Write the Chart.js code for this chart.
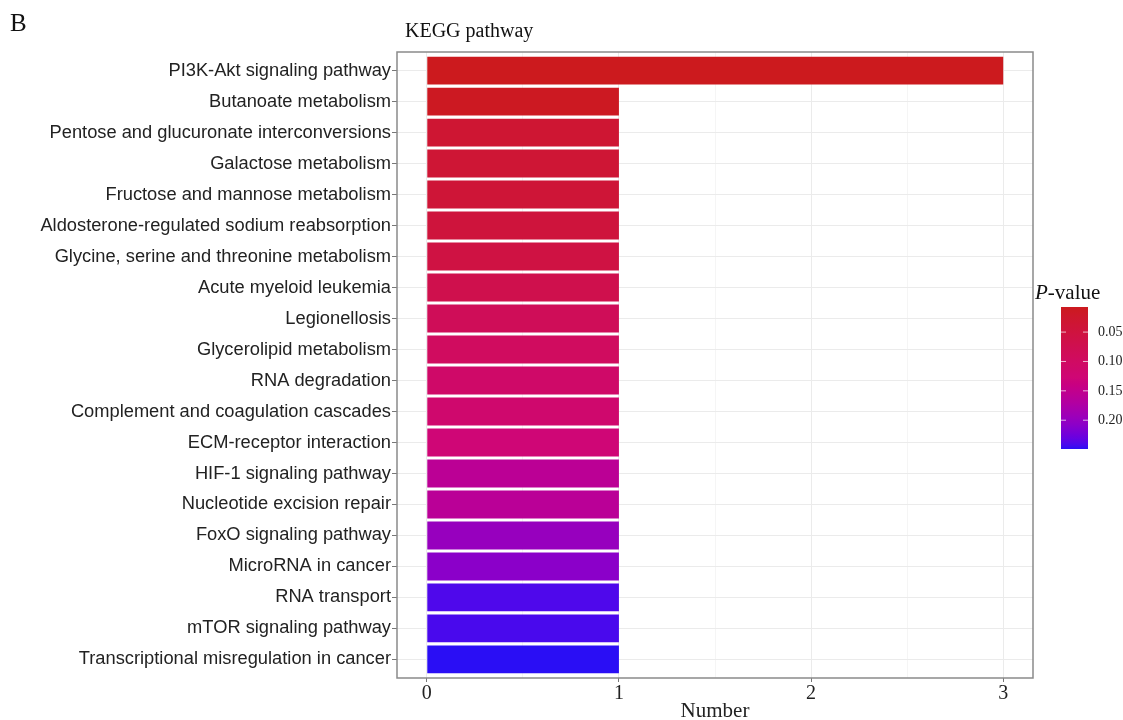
<!DOCTYPE html>
<html>
<head>
<meta charset="utf-8">
<script src="https://cdn.jsdelivr.net/npm/chart.js@4.4.0/dist/chart.umd.min.js"></script>
<style>
  html, body { margin: 0; padding: 0; background: #ffffff; }
  #wrap { width: 1123px; height: 720px; position: relative; }
</style>
</head>
<body>
<div id="wrap"><canvas id="c" width="1123" height="720"></canvas></div>
<script>
// KEGG pathway enrichment: gene counts and P-values per pathway (top to bottom)
const pathways = [
  'PI3K-Akt signaling pathway',
  'Butanoate metabolism',
  'Pentose and glucuronate interconversions',
  'Galactose metabolism',
  'Fructose and mannose metabolism',
  'Aldosterone-regulated sodium reabsorption',
  'Glycine, serine and threonine metabolism',
  'Acute myeloid leukemia',
  'Legionellosis',
  'Glycerolipid metabolism',
  'RNA degradation',
  'Complement and coagulation cascades',
  'ECM-receptor interaction',
  'HIF-1 signaling pathway',
  'Nucleotide excision repair',
  'FoxO signaling pathway',
  'MicroRNA in cancer',
  'RNA transport',
  'mTOR signaling pathway',
  'Transcriptional misregulation in cancer'
];
const geneCounts = [3, 1, 1, 1, 1, 1, 1, 1, 1, 1, 1, 1, 1, 1, 1, 1, 1, 1, 1, 1];
const pValues = [0.0073, 0.012, 0.034, 0.036, 0.039, 0.046, 0.056, 0.070, 0.085, 0.095,
                 0.109, 0.116, 0.128, 0.158, 0.160, 0.198, 0.208, 0.240, 0.242, 0.249];
const countTicks = [0, 1, 2, 3];
const pValueTicks = [0.05, 0.10, 0.15, 0.20];

// Fill scale: low P -> red, high P -> blue, interpolated in CIE Lab through magenta
const colourStops = [
  [0.0, [204, 26, 30]],
  [0.5, [207, 6, 118]],
  [1.0, [42, 14, 245]]
];

function toLin(c) { c /= 255; return c <= 0.04045 ? c / 12.92 : Math.pow((c + 0.055) / 1.055, 2.4); }
function toSrgb(c) {
  c = c <= 0.0031308 ? 12.92 * c : 1.055 * Math.pow(c, 1 / 2.4) - 0.055;
  return Math.round(Math.max(0, Math.min(1, c)) * 255);
}
function rgbToLab(rgb) {
  const r = toLin(rgb[0]), g = toLin(rgb[1]), b = toLin(rgb[2]);
  const X = (0.4124 * r + 0.3576 * g + 0.1805 * b) / 0.95047;
  const Y = (0.2126 * r + 0.7152 * g + 0.0722 * b);
  const Z = (0.0193 * r + 0.1192 * g + 0.9505 * b) / 1.08883;
  const f = t => t > 0.008856 ? Math.cbrt(t) : 7.787 * t + 16 / 116;
  const fx = f(X), fy = f(Y), fz = f(Z);
  return [116 * fy - 16, 500 * (fx - fy), 200 * (fy - fz)];
}
function labToRgb(lab) {
  const fy = (lab[0] + 16) / 116, fx = fy + lab[1] / 500, fz = fy - lab[2] / 200;
  const inv = t => t * t * t > 0.008856 ? t * t * t : (t - 16 / 116) / 7.787;
  const X = inv(fx) * 0.95047, Y = inv(fy), Z = inv(fz) * 1.08883;
  const r = 3.2406 * X - 1.5372 * Y - 0.4986 * Z;
  const g = -0.9689 * X + 1.8758 * Y + 0.0415 * Z;
  const b = 0.0557 * X - 0.2040 * Y + 1.0570 * Z;
  return [toSrgb(r), toSrgb(g), toSrgb(b)];
}
const labStops = colourStops.map(s => [s[0], rgbToLab(s[1])]);
const pMin = Math.min(...pValues), pMax = Math.max(...pValues);
function colourAt(t) {
  t = Math.max(0, Math.min(1, t));
  let k = 0;
  while (k < labStops.length - 2 && t > labStops[k + 1][0]) k++;
  const [t0, a] = labStops[k], [t1, b] = labStops[k + 1];
  const u = (t - t0) / (t1 - t0);
  const c = labToRgb(a.map((v, i) => v + (b[i] - v) * u));
  return `rgb(${c[0]},${c[1]},${c[2]})`;
}
function pColour(p) { return colourAt((p - pMin) / (pMax - pMin)); }

Chart.defaults.font.family = "'Liberation Sans', Arial, sans-serif";
Chart.defaults.color = '#222222';

const SERIF = "'Liberation Serif', 'Times New Roman', serif";

// Panel frame, headings and the P-value colour bar
const decorations = {
  id: 'decorations',
  afterDraw(chart) {
    const ctx = chart.ctx;
    const a = chart.chartArea;
    ctx.save();
    ctx.strokeStyle = '#8a8a8a';
    ctx.lineWidth = 1.5;
    ctx.strokeRect(a.left, a.top, a.right - a.left, a.bottom - a.top);

    ctx.fillStyle = '#111111';
    ctx.textBaseline = 'alphabetic';
    ctx.textAlign = 'left';
    ctx.font = `25px ${SERIF}`;
    ctx.fillText('B', 10, 31);
    ctx.font = `20px ${SERIF}`;
    ctx.fillText('KEGG pathway', 405, 37);

    // legend title: italic P + "-value"
    ctx.font = `italic 21px ${SERIF}`;
    ctx.fillText('P', 1035, 299);
    const pw = ctx.measureText('P').width;
    ctx.font = `21px ${SERIF}`;
    ctx.fillText('-value', 1035 + pw, 299);

    // colour bar
    const bx = 1061, bw = 27, by = 307, bh = 142;
    const grad = ctx.createLinearGradient(0, by, 0, by + bh);
    for (let i = 0; i <= 40; i++) grad.addColorStop(i / 40, colourAt(i / 40));
    ctx.fillStyle = grad;
    ctx.fillRect(bx, by, bw, bh);

    ctx.font = `14px ${SERIF}`;
    ctx.textBaseline = 'middle';
    pValueTicks.forEach(p => {
      const y = by + (p - pMin) / (pMax - pMin) * bh;
      ctx.strokeStyle = 'rgba(255,255,255,0.7)';
      ctx.lineWidth = 1;
      ctx.beginPath();
      ctx.moveTo(bx, y); ctx.lineTo(bx + 5, y);
      ctx.moveTo(bx + bw - 5, y); ctx.lineTo(bx + bw, y);
      ctx.stroke();
      ctx.fillStyle = '#222222';
      ctx.fillText(p.toFixed(2), 1098, y);
    });
    ctx.restore();
  }
};

new Chart(document.getElementById('c'), {
  type: 'bar',
  data: {
    datasets: [{
      data: geneCounts.map((v, i) => ({ x: v, y: i })),
      backgroundColor: pValues.map(pColour),
      borderWidth: 0,
      barPercentage: 0.9,
      categoryPercentage: 1.0
    }]
  },
  options: {
    indexAxis: 'y',
    responsive: false,
    animation: false,
    devicePixelRatio: 1,
    layout: { padding: { top: 52, right: 90, bottom: 0, left: 0 } },
    plugins: { legend: { display: false }, tooltip: { enabled: false } },
    scales: {
      x: {
        type: 'linear',
        position: 'bottom',
        min: -0.155,
        max: 3.155,
        afterBuildTicks: s => { s.ticks = [0, 0.5, 1, 1.5, 2, 2.5, 3].map(v => ({ value: v })); },
        afterFit: s => { s.height = 42; },
        border: { display: false },
        grid: {
          color: c => (c.tick && c.tick.value % 1 === 0) ? '#EBEBEB' : '#F5F5F5',
          tickColor: c => (c.tick && c.tick.value % 1 === 0) ? '#777777' : 'rgba(0,0,0,0)',
          tickLength: 4,
          lineWidth: 1
        },
        ticks: {
          callback: v => (countTicks.includes(v) ? String(v) : ''),
          font: { family: SERIF, size: 20 },
          color: '#222222',
          padding: 0,
          maxRotation: 0,
          autoSkip: false
        },
        title: {
          display: true,
          text: 'Number',
          font: { family: SERIF, size: 21, lineHeight: 1 },
          color: '#222222',
          padding: { top: 0, bottom: -2 }
        }
      },
      y: {
        type: 'linear',
        reverse: true,
        offset: false,
        min: -0.6,
        max: pathways.length - 0.4,
        afterBuildTicks: s => { s.ticks = pathways.map((_, i) => ({ value: i })); },
        afterFit: s => { s.width = 397; },
        border: { display: false },
        grid: {
          offset: false,
          color: '#EBEBEB',
          tickColor: '#777777',
          tickLength: 5,
          lineWidth: 1
        },
        ticks: {
          callback: v => pathways[v],
          font: { size: 18.3 },
          color: '#222222',
          padding: 1,
          autoSkip: false
        }
      }
    }
  },
  plugins: [decorations]
});
</script>
</body>
</html>
